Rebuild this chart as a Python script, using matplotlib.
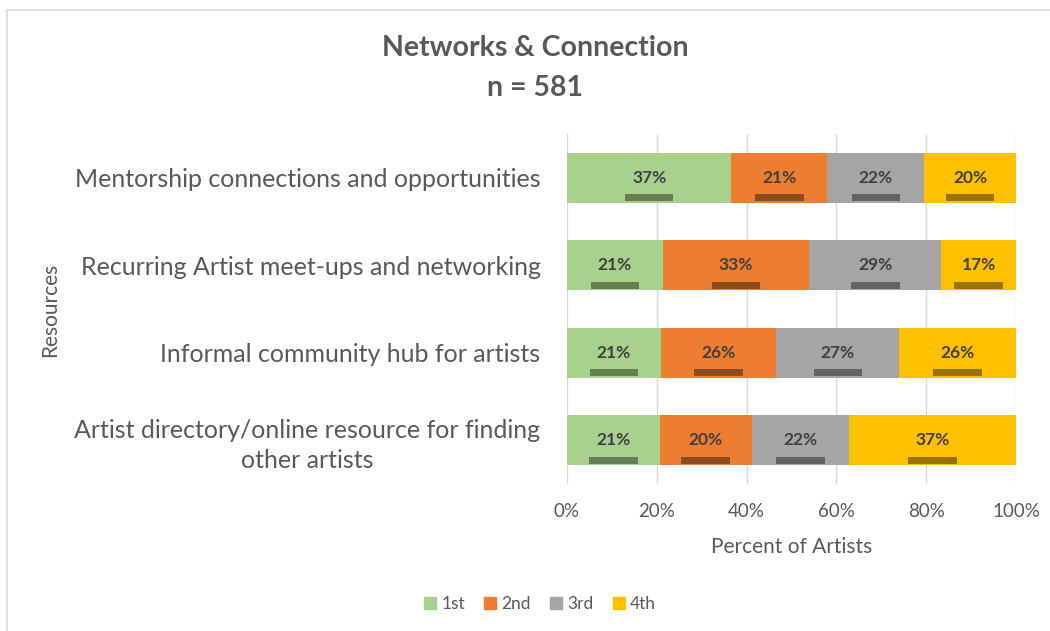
import numpy as np
import matplotlib.pyplot as plt
from matplotlib.patches import Rectangle
from matplotlib.lines import Line2D
from matplotlib.colors import to_rgb

plt.rcParams['font.family'] = ['Lato', 'DejaVu Sans']

# resources, top to bottom
resources = [
    "Mentorship connections and opportunities",
    "Recurring Artist meet-ups and networking",
    "Informal community hub for artists",
    "Artist directory/online resource for finding\nother artists",
]
ranks = ["1st", "2nd", "3rd", "4th"]

# percent of artists ranking each resource 1st..4th
first = [36.6, 21.3, 20.9, 20.7]
second = [21.4, 32.7, 25.7, 20.4]
third = [21.6, 29.4, 27.4, 21.8]
fourth = [20.4, 16.6, 26.0, 37.1]

colors = ["#A9D18E", "#ED7D31", "#A5A5A5", "#FFC000"]
text_grey = "#595959"

fig = plt.figure(figsize=(10.5, 6.31), dpi=100)
ax = fig.add_axes([567 / 1050, 1 - 484 / 631, 449 / 1050, 350 / 631])

y = np.arange(len(resources))
left = np.zeros(len(resources))
bar_h = 0.57
for vals, col in zip([first, second, third, fourth], colors):
    vals = np.array(vals)
    ax.barh(y, vals, left=left, height=bar_h, color=col, zorder=2)
    dark = tuple(c * 0.6 for c in to_rgb(col))
    for yi, (l, v) in enumerate(zip(left, vals)):
        cx = l + v / 2
        ax.text(cx, yi, f"{round(v)}%", ha="center", va="center",
                fontsize=12.5, fontweight="bold", color="#404040", zorder=4)
        ax.add_patch(Rectangle((cx - 5.4, yi + 0.19), 10.8, 0.08,
                               color=dark, zorder=3, linewidth=0))
    left += vals

ax.set_xlim(0, 100)
ax.set_ylim(len(resources) - 0.5, -0.5)
ax.set_xticks(np.arange(0, 101, 20))
ax.set_xticklabels([f"{t}%" for t in range(0, 101, 20)])
ax.set_yticks(y)
ax.set_yticklabels(resources, multialignment="center", linespacing=1.35)
ax.tick_params(axis="x", length=0, pad=14, labelsize=13.5, labelcolor=text_grey)
ax.tick_params(axis="y", length=0, pad=19, labelsize=18, labelcolor=text_grey)
ax.grid(axis="x", color="#d9d9d9", linewidth=1, zorder=0)
for s in ax.spines.values():
    s.set_visible(False)

ax.set_xlabel("Percent of Artists", fontsize=15, color=text_grey, labelpad=12)

fig.text(535 / 1050, 1 - 48 / 631, "Networks & Connection", ha="center",
         va="center", fontsize=20.5, fontweight="bold", color=text_grey)
fig.text(535 / 1050, 1 - 88 / 631, "n = 581", ha="center",
         va="center", fontsize=20.5, fontweight="bold", color=text_grey)
fig.text(50 / 1050, 1 - 310 / 631, "Resources", rotation=90, ha="center",
         va="center", fontsize=15, color=text_grey)

handles = [Rectangle((0, 0), 1, 1, color=c) for c in colors]
fig.legend(handles, ranks, loc="center", bbox_to_anchor=(540 / 1050, 1 - 604 / 631),
           ncol=4, frameon=False, fontsize=12.5, labelcolor=text_grey,
           handlelength=0.7, handleheight=0.7, handletextpad=0.3, columnspacing=1.1)

# chart border
fig.add_artist(Line2D([7 / 1050, 1], [1 - 10 / 631] * 2, color="#d9d9d9", linewidth=1.2))
fig.add_artist(Line2D([7 / 1050] * 2, [0, 1 - 10 / 631], color="#d9d9d9", linewidth=1.2))

fig.savefig("out.png", dpi=100)
